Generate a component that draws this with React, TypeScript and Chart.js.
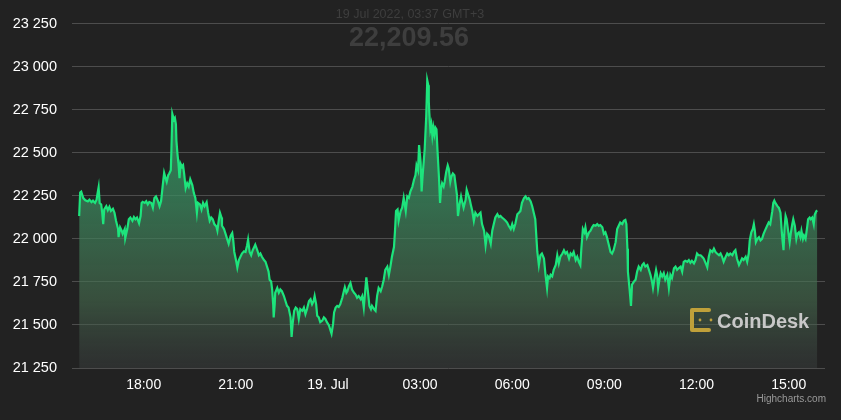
import React, { useEffect, useRef } from 'react';
import { Chart, registerables } from 'chart.js';

Chart.register(...registerables);

// time = minutes since 18 Jul 2022 00:00 (GMT+3), price = BTC/USD
const seg1: [number, number][] = [
  [954,22133],[956,22270],[958,22275],[962,22237],[966,22224],[971,22218],[974,22228],[978,22213],[981,22222],[985,22209],
  [988,22228],[990,22266],[992,22300],[994,22209],[997,22200],[999,22152],[1001,22086],[1003,22171],[1007,22190],[1010,22167],
  [1013,22186],[1016,22162],[1020,22175],[1023,22152],[1026,22105],[1030,22057],[1031,22010],[1034,22067],[1037,22048],[1039,22029],
  [1043,22057],[1044,22004],[1048,22057],[1051,22114],[1054,22124],[1058,22105],[1061,22127],[1064,22114],[1067,22124],[1071,22091],
  [1074,22133],[1076,22209],[1078,22215],[1082,22209],[1085,22219],[1088,22200],[1091,22215],[1095,22209],[1098,22181],[1101,22238],
  [1104,22247],[1108,22219],[1111,22190],[1114,22219],[1117,22304],[1120,22384],[1123,22351],[1125,22332],[1128,22370],[1130,22380],
  [1133,22399],[1134,22494],[1136,22726],[1139,22693],[1141,22703],[1143,22665],[1144,22570],[1146,22494],[1148,22437],[1150,22352],
  [1152,22437],[1155,22418],[1157,22427],[1159,22380],[1162,22294],[1165,22323],[1168,22304],[1171,22346],[1175,22313],[1178,22266],
  [1181,22237],[1184,22152],[1186,22209],[1190,22200],[1193,22171],[1196,22209],[1199,22190],[1203,22213],[1206,22152],[1209,22105],
  [1212,22124],[1215,22114],[1218,22086],[1222,22072],[1224,22048],[1227,22114],[1229,22152],[1232,22124],
];

const seg2: [number, number][] = [
  [1233,22076],[1237,22057],[1240,22029],[1243,22000],[1246,21972],[1250,22019],[1253,22034],[1255,21991],[1257,21924],[1261,21867],
  [1263,21833],[1266,21877],[1269,21896],[1272,21915],[1276,21928],[1279,21924],[1282,21962],[1284,21996],[1287,21924],[1290,21905],
  [1293,21934],[1296,21953],[1298,21966],[1302,21934],[1305,21905],[1308,21915],[1311,21896],[1315,21877],[1318,21867],[1321,21839],
  [1324,21810],[1326,21763],[1329,21753],[1331,21706],[1333,21620],[1334,21544],[1336,21620],[1337,21687],[1341,21715],[1344,21687],
  [1347,21706],[1350,21696],[1354,21668],[1357,21639],[1360,21611],[1363,21601],[1367,21544],[1369,21430],[1371,21506],[1374,21582],
  [1377,21601],[1380,21592],[1383,21535],[1386,21592],[1390,21582],[1393,21601],[1396,21563],[1399,21592],[1403,21639],[1406,21649],
  [1409,21620],[1412,21639],[1414,21668],[1417,21620],[1419,21554],[1422,21544],[1425,21516],[1429,21525],[1432,21544],[1435,21535],
  [1438,21516],[1442,21497],[1445,21468],[1447,21449],[1450,21506],[1452,21573],[1455,21601],[1458,21611],[1461,21605],[1464,21620],
  [1468,21658],[1471,21696],[1473,21719],[1476,21687],[1478,21696],[1481,21725],[1484,21744],[1487,21706],[1491,21687],[1494,21677],
  [1497,21658],[1500,21668],[1504,21649],[1507,21668],[1510,21601],[1513,21706],[1515,21776],[1518,21696],[1521,21611],[1524,21592],
];

const seg3: [number, number][] = [
  [1526,21611],[1530,21592],[1533,21582],[1536,21668],[1539,21715],[1543,21696],[1546,21725],[1549,21763],[1552,21820],[1556,21839],
  [1559,21791],[1562,21839],[1565,21896],[1569,21953],[1571,22048],[1573,22162],[1576,22171],[1578,22105],[1582,22162],[1585,22181],
  [1588,22238],[1592,22162],[1595,22247],[1598,22238],[1601,22275],[1605,22304],[1608,22342],[1611,22370],[1613,22427],[1616,22399],
  [1618,22545],[1621,22446],[1623,22275],[1625,22370],[1627,22446],[1629,22522],[1632,22712],[1634,22921],[1636,22893],[1637,22798],
  [1638,22731],[1640,22636],[1642,22665],[1644,22598],[1646,22646],[1648,22608],[1650,22646],[1652,22636],[1654,22513],[1657,22351],
  [1659,22209],[1661,22294],[1663,22323],[1666,22304],[1668,22332],[1671,22389],[1674,22427],[1676,22408],[1679,22332],[1681,22361],
  [1684,22380],[1687,22370],[1689,22323],[1692,22256],[1694,22133],[1697,22200],[1700,22247],[1702,22218],[1705,22181],[1709,22228],
  [1711,22285],[1714,22256],[1717,22228],[1719,22200],[1722,22162],[1725,22105],[1728,22152],[1732,22133],[1735,22143],[1738,22152],
  [1741,22086],[1745,22048],[1748,21962],[1751,22029],[1754,22019],[1758,21972],[1761,22048],[1764,22086],[1767,22124],[1771,22143],
  [1774,22127],[1777,22133],[1780,22124],[1784,22114],[1787,22105],[1790,22095],[1793,22076],[1797,22057],[1800,22086],[1803,22057],
  [1806,22086],[1810,22143],[1813,22152],[1816,22162],[1819,22209],
];

const seg4: [number, number][] = [
  [1823,22237],[1826,22247],[1829,22232],[1832,22237],[1836,22218],[1839,22190],[1842,22152],[1845,22114],[1847,22019],[1849,21924],
  [1852,21848],[1855,21905],[1858,21915],[1862,21886],[1865,21791],[1868,21715],[1870,21782],[1873,21772],[1875,21791],[1878,21782],
  [1881,21820],[1885,21848],[1888,21905],[1891,21858],[1894,21896],[1898,21915],[1901,21934],[1904,21915],[1907,21924],[1911,21886],
  [1914,21915],[1917,21905],[1920,21924],[1924,21877],[1927,21896],[1930,21867],[1933,21848],[1935,21943],[1938,22057],[1941,22038],
  [1943,22067],[1946,22010],[1950,22038],[1953,22048],[1956,22067],[1959,22080],[1963,22076],[1966,22086],[1969,22076],[1972,22080],
  [1976,22067],[1979,22029],[1982,22038],[1985,22010],[1989,21962],[1992,21924],[1995,21915],[1998,21934],[2002,21981],[2005,22057],
  [2008,22076],[2011,22095],[2015,22086],[2018,22105],[2021,22110],[2023,22086],[2025,21943],[2026,21810],[2029,21715],[2032,21611],
  [2034,21734],[2038,21753],[2041,21763],[2044,21810],[2047,21839],[2051,21820],[2054,21848],[2057,21858],[2060,21839],[2064,21848],
  [2067,21820],[2070,21791],[2073,21753],[2075,21715],[2078,21772],[2081,21820],[2083,21791],[2085,21715],[2088,21772],[2090,21801],
  [2093,21782],[2096,21801],[2099,21763],[2103,21791],[2106,21715],[2109,21791],[2112,21772],
];

const seg5: [number, number][] = [
  [2116,21829],[2119,21839],[2122,21820],[2125,21829],[2129,21839],[2132,21810],[2135,21867],[2138,21873],[2142,21867],[2145,21877],
  [2148,21861],[2151,21873],[2155,21858],[2158,21877],[2161,21915],[2164,21905],[2168,21905],[2171,21896],[2174,21886],[2178,21858],
  [2181,21835],[2184,21896],[2187,21934],[2191,21924],[2194,21943],[2197,21924],[2200,21915],[2204,21905],[2207,21915],[2210,21896],
  [2213,21867],[2217,21896],[2220,21915],[2223,21905],[2226,21915],[2230,21905],[2233,21924],[2236,21934],[2239,21886],[2243,21848],
  [2246,21867],[2249,21886],[2252,21877],[2256,21896],[2259,21867],[2262,21915],[2264,21991],[2267,22038],[2270,22057],[2272,22085],
  [2274,22047],[2276,21981],[2279,22000],[2282,22010],[2285,21991],[2288,22000],[2291,22029],[2295,22057],[2298,22076],[2301,22095],
  [2304,22085],[2308,22161],[2310,22209],[2312,22222],[2314,22209],[2318,22190],[2321,22180],[2324,22152],[2326,22066],[2328,21991],
  [2330,21934],[2332,22066],[2334,22133],[2336,22114],[2339,22047],[2342,21981],[2344,22029],[2347,22085],[2349,22114],[2352,22076],
  [2355,22000],[2357,22029],[2360,22038],[2363,22010],[2365,22047],[2368,22000],[2370,22019],[2373,22000],[2376,22066],[2378,22114],
  [2381,22124],[2383,22114],[2386,22124],[2389,22085],[2391,22142],[2394,22161],[2396,22165],
];

const yTickValues = [21250, 21500, 21750, 22000, 22250, 22500, 22750, 23000, 23250];
const xTickMinutes = [1080, 1260, 1440, 1620, 1800, 1980, 2160, 2340];
const xTickLabels = ['18:00', '21:00', '19. Jul', '03:00', '06:00', '09:00', '12:00', '15:00'];

const headerDate = '19 Jul 2022, 03:37 GMT+3';
const headerPrice = '22,209.56';
const brandText = 'CoinDesk';
const creditText = 'Highcharts.com';

const FONT = '"Liberation Sans", Arial, Helvetica, sans-serif';

function fmtThousands(v: number): string {
  const s = String(Math.round(v));
  return s.replace(/\B(?=(\d{3})+(?!\d))/g, ' ');
}

const decorPlugin = {
  id: 'decor',
  beforeDraw(chart: any) {
    const c = chart.ctx;
    c.save();
    c.fillStyle = '#3e3e3e';
    c.textAlign = 'center';
    c.textBaseline = 'middle';
    c.font = `12.5px ${FONT}`;
    c.fillText(headerDate, 410, 15);
    c.font = `bold 27px ${FONT}`;
    c.fillText(headerPrice, 409, 39);
    c.restore();
  },
  afterDatasetsDraw(chart: any) {
    const c = chart.ctx;
    c.save();
    // CoinDesk mark
    c.strokeStyle = '#bfa03a';
    c.fillStyle = '#bfa03a';
    c.lineWidth = 4;
    c.lineCap = 'round';
    c.lineJoin = 'round';
    c.beginPath();
    c.moveTo(709, 310);
    c.lineTo(692, 310);
    c.lineTo(692, 330);
    c.lineTo(709, 330);
    c.stroke();
    c.beginPath();
    c.arc(711, 320, 1.4, 0, Math.PI * 2);
    c.arc(700, 320, 1.4, 0, Math.PI * 2);
    c.fill();
    c.fillStyle = '#c8c8c8';
    c.font = `bold 20px ${FONT}`;
    c.textAlign = 'left';
    c.textBaseline = 'alphabetic';
    c.fillText(brandText, 717, 328);
    // credits
    c.fillStyle = '#9a9a9a';
    c.font = `10px ${FONT}`;
    c.textAlign = 'right';
    c.textBaseline = 'middle';
    c.fillText(creditText, 826, 399);
    c.restore();
  },
};

export default function App() {
  const canvasRef = useRef<HTMLCanvasElement | null>(null);

  useEffect(() => {
    document.body.style.margin = '0';
    document.body.style.background = '#222222';
    const canvas = canvasRef.current;
    if (!canvas) return;
    const points = [...seg1, ...seg2, ...seg3, ...seg4, ...seg5].map(([t, p]) => ({ x: t, y: p }));

    const chart = new Chart(canvas, {
      type: 'line',
      data: {
        datasets: [
          {
            data: points,
            borderColor: '#1de47c',
            borderWidth: 2.2,
            pointRadius: 0,
            tension: 0,
            fill: 'start',
            backgroundColor: (ctx: any) => {
              const ch = ctx.chart;
              const area = ch.chartArea;
              if (!area) return 'rgba(40,140,90,0.5)';
              const g = ch.ctx.createLinearGradient(0, area.top, 0, area.bottom);
              g.addColorStop(0, 'rgba(32,189,109,0.8)');
              g.addColorStop(0.5, 'rgba(58,138,95,0.75)');
              g.addColorStop(0.8, 'rgba(71,110,80,0.6)');
              g.addColorStop(1, 'rgba(64,69,69,0.4)');
              return g;
            },
          },
        ],
      },
      options: {
        animation: false,
        responsive: false,
        maintainAspectRatio: false,
        layout: { padding: { top: 17, right: 16, bottom: 0, left: 0 } },
        plugins: { legend: { display: false }, tooltip: { enabled: false } },
        scales: {
          x: {
            type: 'linear',
            min: 940,
            max: 2411,
            afterBuildTicks: (s: any) => {
              s.ticks = xTickMinutes.map((v) => ({ value: v }));
            },
            afterFit: (s: any) => {
              s.height = 52;
            },
            ticks: {
              autoSkip: false,
              maxRotation: 0,
              padding: 1,
              color: '#ffffff',
              font: { family: FONT, size: 14 },
              callback: (v: any) => {
                const i = xTickMinutes.indexOf(Number(v));
                return i >= 0 ? xTickLabels[i] : '';
              },
            },
            grid: { display: false },
            border: { display: false },
          },
          y: {
            type: 'linear',
            min: 21250,
            max: 23250,
            afterBuildTicks: (s: any) => {
              s.ticks = yTickValues.map((v) => ({ value: v }));
            },
            afterFit: (s: any) => {
              s.width = 72;
            },
            ticks: {
              padding: 15,
              color: '#ffffff',
              font: { family: FONT, size: 14.5 },
              callback: (v: any) => fmtThousands(Number(v)),
            },
            grid: { color: '#4d4d4d', lineWidth: 1, drawTicks: false },
            border: { display: false },
          },
        },
      },
      plugins: [decorPlugin],
    } as any);

    return () => {
      chart.destroy();
    };
  }, []);

  return (
    <div style={{ position: 'fixed', left: 0, top: 0, width: 841, height: 420, background: '#222222' }}>
      <canvas ref={canvasRef} width={841} height={420} style={{ display: 'block', width: 841, height: 420 }} />
    </div>
  );
}
